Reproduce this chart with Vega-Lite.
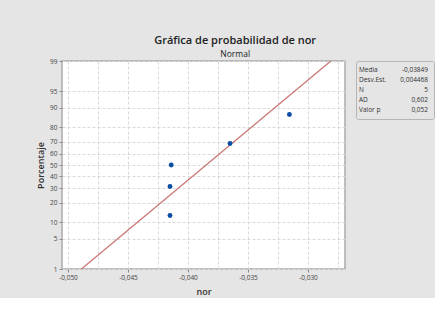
{
  "$schema": "https://vega.github.io/schema/vega-lite/v6.json",
  "background": "#e5e5e5",
  "padding": {"left": 35, "top": 34, "right": 0, "bottom": 0},
  "title": {
    "text": "Gráfica de probabilidad de nor",
    "subtitle": "Normal",
    "font": "Open Sans",
    "subtitleFont": "Open Sans",
    "fontSize": 11,
    "fontWeight": 600,
    "subtitleFontSize": 8.5,
    "subtitleFontWeight": "normal",
    "color": "#222222",
    "subtitleColor": "#222222",
    "anchor": "middle",
    "offset": -1,
    "subtitlePadding": 4
  },
  "config": {
    "font": "Open Sans",
    "axis": {
      "labelFont": "Open Sans",
      "titleFont": "Open Sans",
      "labelFontSize": 6.5,
      "labelColor": "#444444",
      "labelOverlap": false,
      "titleFontSize": 9,
      "titleFontWeight": 600,
      "titleColor": "#333333",
      "tickColor": "#8a8a8a",
      "tickSize": 3,
      "tickCount": 60,
      "labelPadding": 2,
      "domain": false,
      "grid": true,
      "gridColor": "#d9d9d9",
      "gridDash": [3, 2],
      "gridWidth": 1
    }
  },
  "spacing": 9,
  "hconcat": [
    {
      "width": 283,
      "height": 208,
      "view": {"fill": "white", "stroke": "#ababab", "strokeWidth": 1.5},
      "layer": [
        {
          "data": {"values": [
            {"x": -0.04888, "p": 1},
            {"x": -0.02810, "p": 99}
          ]},
          "transform": [{"calculate": "quantileNormal(datum.p / 100)", "as": "z"}],
          "mark": {"type": "line", "color": "#c8716e", "strokeWidth": 1.2, "clip": true},
          "encoding": {
            "x": {
              "field": "x", "type": "quantitative",
              "scale": {"domain": [-0.0505, -0.026917], "nice": false, "zero": false},
              "axis": {
                "title": "nor",
                "titlePadding": 7,
                "tickCount": 60,
                "values": [-0.05, -0.0475, -0.045, -0.0425, -0.04, -0.0375, -0.035, -0.0325, -0.03, -0.0275],
                "labelExpr": "abs(datum.value*200 - round(datum.value*200)) < 0.01 ? '-' + replace(format(abs(datum.value), '.3f'), '.', ',') : ''",
                "tickOpacity": {"condition": {"test": "abs(datum.value*200 - round(datum.value*200)) < 0.01", "value": 1}, "value": 0}
              }
            },
            "y": {
              "field": "z", "type": "quantitative",
              "scale": {"domain": [-2.3263, 2.3263], "nice": false, "zero": false},
              "axis": {
                "title": "Porcentaje",
                "titlePadding": 4,
                "tickCount": 60,
                "values": [-2.3263, -1.6449, -1.2816, -0.8416, -0.5244, -0.2533, 0, 0.2533, 0.5244, 0.8416, 1.2816, 1.6449, 2.3263],
                "labelExpr": "format(cumulativeNormal(datum.value) * 100, '.0f')"
              }
            }
          }
        },
        {
          "data": {"values": [
            {"x": -0.04150, "p": 12.96},
            {"x": -0.04150, "p": 31.48},
            {"x": -0.04140, "p": 50.00},
            {"x": -0.03650, "p": 68.52},
            {"x": -0.03155, "p": 87.04}
          ]},
          "transform": [{"calculate": "quantileNormal(datum.p / 100)", "as": "z"}],
          "mark": {"type": "circle", "size": 24, "color": "#0a4fa3", "opacity": 1},
          "encoding": {
            "x": {"field": "x", "type": "quantitative"},
            "y": {"field": "z", "type": "quantitative"}
          }
        }
      ]
    },
    {
      "width": 78,
      "height": 58,
      "view": {"fill": null, "stroke": "#b5b5b5", "strokeWidth": 1, "cornerRadius": 2},
      "data": {"values": [
        {"stat": "Media", "valor": "-0,03849"},
        {"stat": "Desv.Est.", "valor": "0,004468"},
        {"stat": "N", "valor": "5"},
        {"stat": "AD", "valor": "0,602"},
        {"stat": "Valor p", "valor": "0,052"}
      ]},
      "encoding": {
        "y": {"field": "stat", "type": "nominal", "sort": null, "scale": {"type": "point", "padding": 0.85}, "axis": null}
      },
      "layer": [
        {
          "mark": {"type": "text", "align": "left", "baseline": "middle", "fontSize": 6.5, "color": "#333333", "dx": 3},
          "encoding": {
            "x": {"datum": 0, "type": "quantitative", "scale": {"domain": [0, 1]}, "axis": null},
            "text": {"field": "stat"}
          }
        },
        {
          "mark": {"type": "text", "align": "right", "baseline": "middle", "fontSize": 6.5, "color": "#333333", "dx": -6},
          "encoding": {
            "x": {"datum": 1, "type": "quantitative"},
            "text": {"field": "valor"}
          }
        }
      ]
    }
  ]
}
